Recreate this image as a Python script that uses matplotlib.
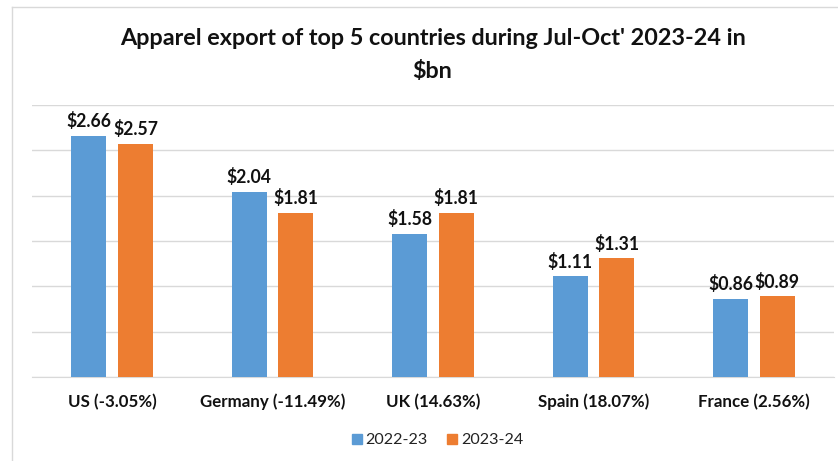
import matplotlib
matplotlib.use("Agg")
import matplotlib.pyplot as plt
import numpy as np
from matplotlib.lines import Line2D

categories = ["US (-3.05%)", "Germany (-11.49%)", "UK (14.63%)", "Spain (18.07%)", "France (2.56%)"]
series_names = ["2022-23", "2023-24"]
values_2022 = [2.66, 2.04, 1.58, 1.11, 0.86]
values_2023 = [2.57, 1.81, 1.81, 1.31, 0.89]
title_line1 = "Apparel export of top 5 countries during Jul-Oct' 2023-24 in"
title_line2 = "$bn"

plt.rcParams['font.family'] = ['Lato', 'DejaVu Sans']
blue = "#5B9BD5"
orange = "#ED7D31"
W, H = 838, 461

fig = plt.figure(figsize=(W/100, H/100), dpi=100)
ax = fig.add_axes([32/W, 1-377/H, (834-32)/W, (377-105)/H])
renderer = fig.canvas.get_renderer()

def fit_size(txt, target_px, size0=12, weight="normal"):
    t = fig.text(0, 0, txt, fontsize=size0, fontweight=weight)
    w = t.get_window_extent(renderer).width
    t.remove()
    return size0 * target_px / w

x = np.arange(len(categories))
w = 0.218
off = 0.145
b1 = ax.bar(x - off, values_2022, w, color=blue, label=series_names[0], zorder=3)
b2 = ax.bar(x + off, values_2023, w, color=orange, label=series_names[1], zorder=3)

lab_size = fit_size("$2.66", 45, weight="bold")
for bars, vals in ((b1, values_2022), (b2, values_2023)):
    for r, v in zip(bars, vals):
        ax.annotate(f"${v:.2f}", (r.get_x() + r.get_width()/2, r.get_height()),
                    xytext=(0, 4), textcoords="offset points", ha="center", va="bottom",
                    fontsize=lab_size, fontweight="bold", color="#111111")

ax.set_xlim(-0.5, len(categories) - 0.5)
ax.set_ylim(0, 3.0)
ax.set_yticks(np.arange(0, 3.01, 0.5))
ax.yaxis.grid(True, color="#D9D9D9", linewidth=1, zorder=0)
ax.tick_params(axis="y", length=0, labelleft=False)
cat_size = fit_size(categories[1], 145, weight="bold")
ax.tick_params(axis="x", length=0, pad=12)
ax.set_xticks(x)
ax.set_xticklabels(categories, fontsize=cat_size, fontweight="bold", color="#111111")
for s in ["top", "right", "left"]:
    ax.spines[s].set_visible(False)
ax.spines["bottom"].set_color("#D9D9D9")

t_size = fit_size(title_line1, 625, weight="bold")
fig.text(432.5/W, 1-45/H, title_line1, ha="center", va="baseline", fontsize=t_size,
         fontweight="bold", color="#111111")
fig.text(432.5/W, 1-78/H, title_line2, ha="center", va="baseline", fontsize=t_size,
         fontweight="bold", color="#111111")

leg_size = fit_size(series_names[0], 62)
handles = [Line2D([], [], marker="s", linestyle="none", markersize=7.5, color=blue),
           Line2D([], [], marker="s", linestyle="none", markersize=7.5, color=orange)]
fig.legend(handles, series_names, loc="center", bbox_to_anchor=(436/W, 1-440/H), ncol=2,
           frameon=False, fontsize=leg_size, handletextpad=0.05, columnspacing=1.0,
           handlelength=1.0, labelcolor="#222222")

fig.add_artist(Line2D([12/W, 12/W], [0, 1-7/H], transform=fig.transFigure, color="#D9D9D9", linewidth=1))
fig.add_artist(Line2D([12/W, 1], [1-7/H, 1-7/H], transform=fig.transFigure, color="#D9D9D9", linewidth=1))

fig.savefig("out.png", dpi=100)
